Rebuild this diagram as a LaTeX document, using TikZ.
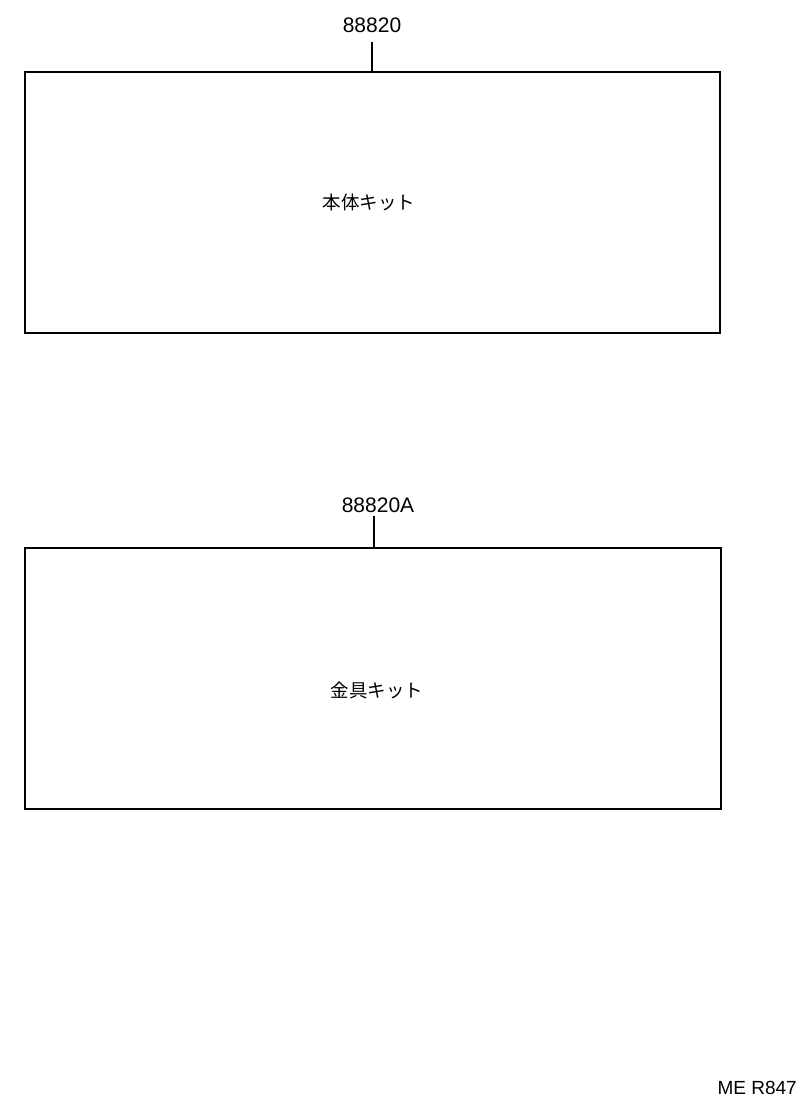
\documentclass[tikz,border=0pt]{standalone}
\usepackage{fontspec}
\setmainfont{Liberation Sans}
\newfontfamily\cjk{Noto Sans CJK JP}
\begin{document}
\begin{tikzpicture}[x=1pt,y=-1pt,
  kitbox/.style={draw,line width=1.6pt},
  lead/.style={draw,line width=1.6pt},
  num/.style={inner sep=0pt,font=\fontsize{21}{21}\selectfont},
  code/.style={inner sep=0pt,font=\fontsize{19}{19}\selectfont},
  jp/.style={inner sep=0pt,font=\cjk\fontsize{18.5}{18.5}\selectfont}]
\useasboundingbox (0,0) rectangle (800,1110);
\path[kitbox] (25,72) rectangle (720,333);
\path[kitbox] (25,548) rectangle (721,809);
\node[jp] (t1) at (369,202) {本体キット};
\node[jp] (t2) at (377,690) {金具キット};
\node[num] (l1) at (372,25) {88820};
\node[num] (l2) at (378,505) {88820A};
\coordinate (b1) at (372,72);
\coordinate (b2) at (374,548);
\coordinate (a1) at (372,42);
\coordinate (a2) at (374,516);
\path[lead] (a1) -- (b1);
\path[lead] (a2) -- (b2);
\node[code,anchor=east] (code) at (797,1088) {ME R847};
\end{tikzpicture}
\end{document}
